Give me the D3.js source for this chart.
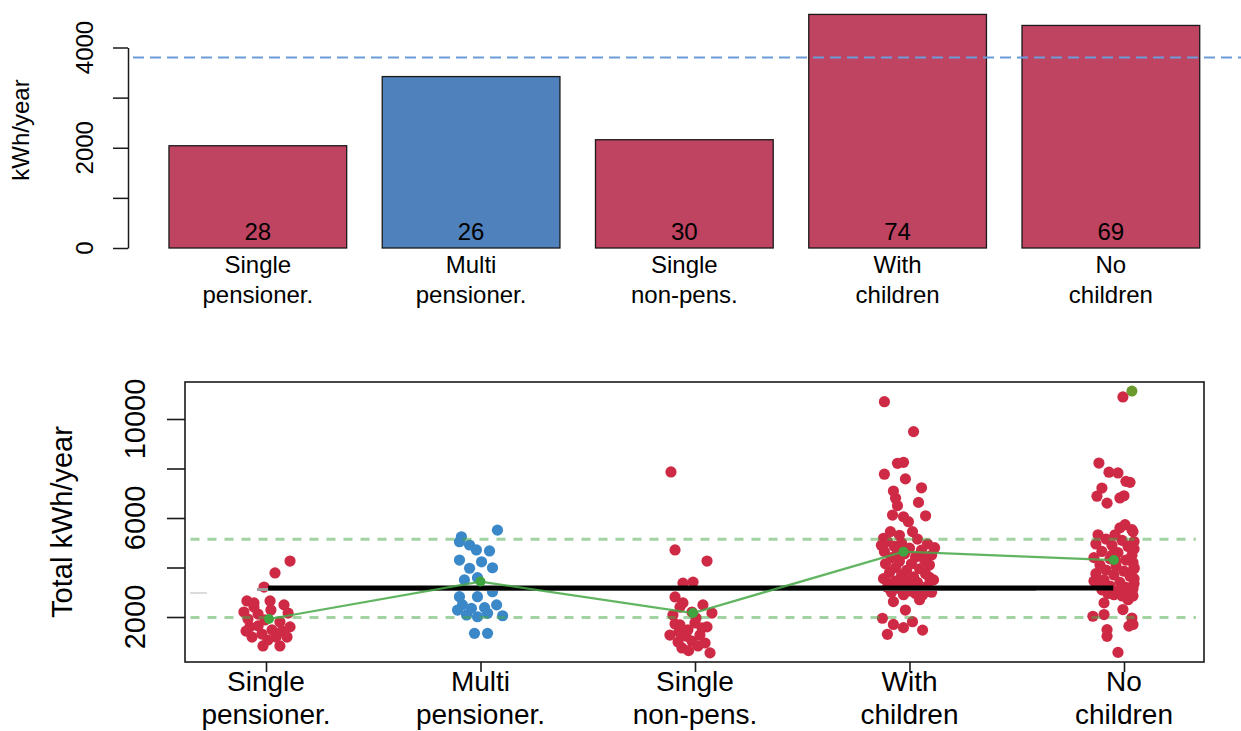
<!DOCTYPE html>
<html>
<head>
<meta charset="utf-8">
<script src="https://cdn.jsdelivr.net/npm/d3@7"></script>
<style>
  html, body { margin: 0; padding: 0; background: #fff; }
  svg { display: block; font-family: "Liberation Sans", Arial, sans-serif; }
</style>
</head>
<body>
<svg id="chart" width="1241" height="731"></svg>
<script>
// ---- data -------------------------------------------------------------
const categories = [
  ["Single", "pensioner."],
  ["Multi", "pensioner."],
  ["Single", "non-pens."],
  ["With", "children"],
  ["No", "children"]
];
// mean annual consumption per household type (kWh/year)
const barMeans = [2040, 3420, 2160, 4660, 4440];
// number of households in each type
const counts = [28, 26, 30, 74, 69];
// household type drawn in the contrasting colour
const highlightIndex = 1;
// reference level shown as dashed line on the bar chart
const referenceLevel = 3800;

const topTicks = [0, 1000, 2000, 3000, 4000];
const topTickLabels = [0, 2000, 4000];
const bottomTicks = [2000, 4000, 6000, 8000, 10000];
const bottomTickLabels = [2000, 6000, 10000];

// individual households: [horizontal jitter (category units), kWh/year]
const singlePensioner = [
  [0.112, 4260], [0.042, 3780], [-0.009, 3210], [-0.089, 2650], [-0.056, 2570],
  [0.019, 2650], [0.084, 2490], [0.023, 2280], [-0.037, 2120], [-0.084, 1920],
  [-0.005, 1880], [0.065, 1800], [0.112, 1600], [-0.075, 1600], [0.028, 1480],
  [-0.065, 1190], [-0.019, 1310], [0.098, 1190], [-0.014, 830], [0.065, 830],
  [-0.103, 2200], [0.103, 2160], [-0.037, 1640], [0.047, 1190], [0.009, 1070],
  [-0.056, 2400], [0.075, 1430], [-0.093, 1430]
];
const multiPensioner = [
  [0.079, 5510], [-0.089, 5240], [-0.098, 5040], [-0.051, 4910], [-0.019, 4710],
  [0.042, 4670], [-0.098, 4300], [0.005, 4230], [-0.051, 3970], [0.056, 3990],
  [-0.075, 3500], [-0.014, 3590], [0.056, 3020], [-0.098, 2820], [-0.014, 2820],
  [-0.084, 2490], [-0.042, 2350], [0.019, 2380], [0.075, 2490], [-0.065, 2080],
  [-0.014, 2010], [0.033, 2150], [0.103, 2050], [-0.028, 1340], [0.033, 1340],
  [-0.107, 2280]
];
const singleNonPens = [
  [-0.112, 7860], [-0.093, 4710], [0.056, 4260], [-0.056, 3370], [-0.009, 3410],
  [-0.093, 2810], [-0.056, 2570], [0.037, 2490], [-0.103, 2080], [0.079, 2160],
  [-0.014, 2200], [-0.070, 1680], [0.000, 1760], [0.056, 1600], [-0.117, 1270],
  [-0.033, 1480], [0.023, 1270], [-0.079, 990], [-0.014, 1030], [0.047, 950],
  [-0.061, 750], [0.014, 830], [0.070, 550], [-0.093, 1720], [-0.042, 1230],
  [0.005, 1960], [-0.070, 2400], [0.033, 1560], [-0.030, 640], [-0.075, 1390]
];
const withChildren = [
  [-0.117, 10700], [0.019, 9490], [-0.056, 8210], [-0.028, 8250], [-0.117, 7770],
  [-0.019, 7580], [-0.075, 7090], [0.056, 7220], [-0.065, 6800], [0.042, 6630],
  [-0.056, 6500], [-0.079, 6120], [0.075, 6090], [-0.028, 6050], [-0.005, 5850],
  [0.014, 5450], [-0.089, 5450], [-0.121, 5180], [-0.047, 5300],
  [-0.103, 5050], [-0.037, 5000], [0.037, 5150], [0.084, 4950], [-0.070, 4850],
  [0.000, 4780], [0.056, 4700], [-0.117, 4650], [-0.023, 4550], [0.103, 4500],
  [-0.084, 4400], [0.028, 4420], [0.070, 4300], [-0.047, 4250], [-0.112, 4150],
  [0.009, 4150], [0.093, 4100], [-0.065, 4000], [0.047, 3950], [-0.014, 3880],
  [-0.093, 3800], [0.075, 3750], [-0.037, 3700], [0.019, 3620], [-0.121, 3550],
  [0.112, 3500], [-0.065, 3450], [0.037, 3400], [-0.009, 3300], [0.084, 3250],
  [-0.103, 3200], [-0.047, 3150], [0.056, 3100], [0.000, 3050], [-0.084, 3000],
  [0.103, 3000], [0.028, 2950], [-0.028, 2900], [-0.131, 4900], [0.117, 4800],
  [-0.056, 4600], [0.065, 4450], [-0.093, 3350], [0.093, 3600], [-0.023, 3500],
  [0.047, 2700],
  [0.061, 2890], [-0.075, 2620], [-0.019, 2280], [-0.126, 1950], [-0.075, 1700],
  [0.014, 1810], [-0.028, 1570], [0.061, 1470], [-0.103, 1300]
];
const noChildren = [
  [-0.005, 10890], [-0.117, 8220], [-0.070, 7850], [-0.028, 7820], [0.028, 7440],
  [0.009, 7480], [-0.103, 7210], [-0.126, 6880], [-0.079, 6600], [-0.019, 6810],
  [0.000, 6900], [0.005, 5730], [0.037, 5530], [-0.042, 5320], [-0.121, 5320],
  [0.042, 5450], [-0.019, 5600],
  [-0.084, 5150], [-0.009, 5100], [0.047, 5050], [-0.131, 4950], [-0.056, 4900],
  [0.019, 4850], [0.047, 4750], [-0.103, 4650], [-0.028, 4600], [0.037, 4500],
  [-0.140, 4400], [-0.065, 4350], [0.009, 4300], [0.042, 4200], [-0.112, 4100],
  [-0.037, 4050], [0.047, 3950], [-0.084, 3900], [0.000, 3850], [-0.131, 3750],
  [-0.047, 3700], [0.028, 3650], [0.047, 3550], [-0.093, 3500], [-0.019, 3400],
  [0.047, 3350], [-0.121, 3300], [-0.065, 3250], [0.009, 3200], [0.042, 3150],
  [-0.103, 3100], [-0.028, 3050], [0.037, 3000], [-0.075, 2950], [-0.009, 2850],
  [0.019, 2700], [-0.093, 2570], [-0.005, 2300], [-0.145, 2030], [-0.093, 2100],
  [0.037, 1960], [0.042, 1700], [-0.079, 1490], [-0.079, 1220], [-0.028, 570],
  [0.023, 1630], [-0.047, 2900],
  [-0.056, 4500], [0.047, 4000], [-0.140, 3450], [0.042, 2850], [-0.037, 4250]
];
const households = [singlePensioner, multiPensioner, singleNonPens, withChildren, noChildren];

// group means shown on the strip chart, with their jitter
const groupMeans = [1920, 3430, 2160, 4640, 4300];
const groupMeanJitter = [0.014, 0.0, -0.009, -0.028, -0.047];
// overall mean line and its lighter shadow
const overallMean = 3170;
const overallShadow = 3110;
// band of typical consumption
const bandLow = 1980;
const bandHigh = 5140;
// a single stray marker at the top of the last strip
const strayMarker = [5.037, 11130];
// short grey tick at the left edge of the strip chart
const leftStub = 2970;

// ---- styles -----------------------------------------------------------
const RED_BAR = "#be4462";
const BLUE_BAR = "#4f81bd";
const RED_PT = "#cf2b45";
const BLUE_PT = "#3b88c9";
const GREEN = "#47a847";
const INK = "#1a1a1a";

const svg = d3.select("#chart");
const defs = svg.append("defs");
defs.append("filter").attr("id", "soft")
  .attr("x", "-20%").attr("y", "-20%").attr("width", "140%").attr("height", "140%")
  .append("feGaussianBlur").attr("stdDeviation", 0.6);

// ---- bar chart --------------------------------------------------------
const yTop = d3.scaleLinear().domain([0, 4000]).range([248, 47.5]);
const xTop = d3.scaleBand().domain(d3.range(categories.length))
  .range([151.2, 1217.5]).paddingInner(1 / 6).paddingOuter(1 / 12);

const barG = svg.append("g");

barG.selectAll("rect.bar").data(barMeans).join("rect")
  .attr("class", "bar")
  .attr("x", (d, i) => xTop(i))
  .attr("y", d => yTop(d))
  .attr("width", xTop.bandwidth())
  .attr("height", d => yTop(0) - yTop(d))
  .attr("fill", (d, i) => i === highlightIndex ? BLUE_BAR : RED_BAR)
  .attr("stroke", INK).attr("stroke-width", 1.3);

barG.selectAll("text.count").data(counts).join("text")
  .attr("class", "count")
  .attr("x", (d, i) => xTop(i) + xTop.bandwidth() / 2)
  .attr("y", yTop(0) - 8.5)
  .attr("text-anchor", "middle").attr("font-size", 24).attr("fill", "#000")
  .text(d => d);

categories.forEach((lines, i) => {
  lines.forEach((t, k) => {
    barG.append("text")
      .attr("x", xTop(i) + xTop.bandwidth() / 2)
      .attr("y", yTop(0) + 25 + k * 30)
      .attr("text-anchor", "middle").attr("font-size", 24).attr("fill", "#000")
      .text(t);
  });
});

const topAxis = barG.append("g").attr("transform", "translate(128,0)")
  .call(d3.axisLeft(yTop).tickValues(topTicks).tickSize(15).tickSizeOuter(0).tickFormat(""));
topAxis.selectAll("path, line").attr("stroke", INK).attr("stroke-width", 1.5);

barG.selectAll("text.ytick").data(topTickLabels).join("text")
  .attr("class", "ytick")
  .attr("transform", d => `translate(93,${yTop(d)}) rotate(-90)`)
  .attr("text-anchor", "middle").attr("font-size", 24).attr("fill", "#000")
  .text(d => d);

barG.append("text")
  .attr("transform", "translate(29,130) rotate(-90)")
  .attr("text-anchor", "middle").attr("font-size", 24).attr("fill", "#000")
  .text("kWh/year");

barG.append("line")
  .attr("x1", 133).attr("x2", 1241)
  .attr("y1", yTop(referenceLevel)).attr("y2", yTop(referenceLevel))
  .attr("stroke", "#6b9bd8").attr("stroke-width", 2)
  .attr("stroke-dasharray", "11 6");

// ---- strip chart ------------------------------------------------------
const xB = d3.scaleLinear().domain([0.6224, 5.373]).range([185, 1204]);
const yB = d3.scaleLinear().domain([182, 11495]).range([662, 382]);

defs.append("clipPath").attr("id", "plotClip")
  .append("rect").attr("x", 185).attr("y", 382).attr("width", 1019).attr("height", 280);

const stripG = svg.append("g");
const plot = stripG.append("g").attr("clip-path", "url(#plotClip)");

plot.append("line")
  .attr("x1", xB(0.646)).attr("x2", xB(0.725))
  .attr("y1", yB(leftStub)).attr("y2", yB(leftStub))
  .attr("stroke", "#d0d0d0").attr("stroke-width", 1.5);

const soft = plot.append("g").attr("filter", "url(#soft)");

soft.append("circle")
  .attr("cx", xB(strayMarker[0])).attr("cy", yB(strayMarker[1])).attr("r", 5.5)
  .attr("fill", "#6a9a2e");

households.forEach((pts, c) => {
  soft.append("g").selectAll("circle").data(pts).join("circle")
    .attr("cx", d => xB(c + 1 + d[0]))
    .attr("cy", d => yB(d[1]))
    .attr("r", 5.6)
    .attr("fill", c === highlightIndex ? BLUE_PT : RED_PT);
});

// overall mean with its grey shadow
soft.append("line")
  .attr("x1", xB(0.958)).attr("x2", xB(4.59))
  .attr("y1", yB(overallShadow)).attr("y2", yB(overallShadow))
  .attr("stroke", "#9a9a9a").attr("stroke-width", 3);
soft.append("line")
  .attr("x1", xB(1.01)).attr("x2", xB(4.95))
  .attr("y1", yB(overallMean)).attr("y2", yB(overallMean))
  .attr("stroke", "#000").attr("stroke-width", 5);

// typical band
[bandLow, bandHigh].forEach(v => {
  soft.append("line")
    .attr("x1", xB(0.648)).attr("x2", xB(5.335))
    .attr("y1", yB(v)).attr("y2", yB(v))
    .attr("stroke", GREEN).attr("stroke-opacity", 0.5).attr("stroke-width", 3)
    .attr("stroke-dasharray", "9 8");
});

// group means
const meanPts = groupMeans.map((m, i) => [i + 1 + groupMeanJitter[i], m]);
soft.append("path")
  .datum(meanPts)
  .attr("fill", "none")
  .attr("stroke", GREEN).attr("stroke-opacity", 0.85).attr("stroke-width", 2.2)
  .attr("d", d3.line().x(d => xB(d[0])).y(d => yB(d[1])));
soft.selectAll("circle.mean").data(meanPts).join("circle")
  .attr("class", "mean")
  .attr("cx", d => xB(d[0])).attr("cy", d => yB(d[1])).attr("r", 5)
  .attr("fill", "#3fa53f");

// frame and axes
stripG.append("rect")
  .attr("x", 185).attr("y", 382).attr("width", 1019).attr("height", 280)
  .attr("fill", "none").attr("stroke", INK).attr("stroke-width", 1.6);

const yAx = stripG.append("g").attr("transform", "translate(185,0)")
  .call(d3.axisLeft(yB).tickValues(bottomTicks).tickSize(18).tickSizeOuter(0).tickFormat(""));
yAx.select(".domain").remove();
yAx.selectAll("line").attr("stroke", INK).attr("stroke-width", 1.6);

const xAx = stripG.append("g").attr("transform", "translate(0,662)")
  .call(d3.axisBottom(xB).tickValues(d3.range(1, categories.length + 1)).tickSize(10).tickSizeOuter(0).tickFormat(""));
xAx.select(".domain").remove();
xAx.selectAll("line").attr("stroke", INK).attr("stroke-width", 1.6);

stripG.selectAll("text.ytick").data(bottomTickLabels).join("text")
  .attr("class", "ytick")
  .attr("transform", d => `translate(145,${yB(d)}) rotate(-90)`)
  .attr("text-anchor", "middle").attr("font-size", 29).attr("fill", "#000")
  .text(d => d);

categories.forEach((lines, i) => {
  lines.forEach((t, k) => {
    stripG.append("text")
      .attr("x", xB(i + 1))
      .attr("y", 662 + 29 + k * 33)
      .attr("text-anchor", "middle").attr("font-size", 28).attr("fill", "#000")
      .text(t);
  });
});

stripG.append("text")
  .attr("transform", "translate(72,522) rotate(-90)")
  .attr("text-anchor", "middle").attr("font-size", 29).attr("fill", "#000")
  .text("Total kWh/year");
</script>
</body>
</html>
